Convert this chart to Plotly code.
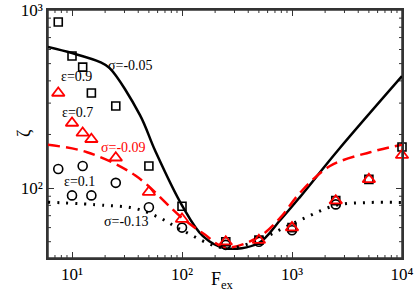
import numpy as np
import plotly.graph_objects as go

# ---- data ----
fex_sq = [7.5, 10, 12.5, 15, 25, 50, 100, 250, 500, 1000, 2500, 5000, 10000]
zeta_sq = [857, 552, 478, 342, 289, 133, 79, 50, 51, 60, 85, 112, 170]

fex_tri = [7.5, 10, 12.5, 15, 25, 50, 100, 250, 500, 1000, 2500, 5000, 10000]
zeta_tri = [342, 232, 204, 188, 148, 95, 67, 50, 51, 60, 85, 112, 153]

fex_circ = [7.5, 10, 12.5, 15, 25, 50, 100, 250, 500, 1000, 2500]
zeta_circ = [128, 91, 133, 91, 107, 78, 60, 48, 50, 58, 81]

fex_s005 = [6.05, 10, 18, 22, 41.5, 56.8, 100, 155, 245, 494, 780, 1180, 2620, 10000]
zeta_s005 = [620, 573, 510, 472, 257, 163, 80, 53.7, 46, 49, 66, 89, 163, 425]

fex_s009 = [6.05, 13.7, 37.4, 100, 160, 245, 494, 780, 1180, 2215, 5130, 10000]
zeta_s009 = [175, 159, 118, 68, 55, 46.5, 53, 68, 94, 133, 159, 175]

fex_s013 = [6.05, 20, 37, 63, 100, 245, 494, 780, 1180, 2500, 5000, 10000]
zeta_s013 = [83.4, 80, 77, 68, 58, 46, 51, 58.5, 66, 80, 83, 83]

xtick_vals = [10, 100, 1000, 10000]
xtick_text = ["10¹", "10²", "10³", "10⁴"]
ytick_vals = [100, 1000]
ytick_text = ["10²", "10³"]

FONT = "Liberation Serif, DejaVu Serif, serif"
RED = "#ff0000"
AX = "#333333"

XR = [np.log10(6.05), 4]
YR = [np.log10(40.5), 3]

fig = go.Figure()

fig.add_trace(go.Scatter(x=fex_s005, y=zeta_s005, mode="lines",
                         line=dict(color="black", width=2.5, shape="spline", smoothing=1.0)))
fig.add_trace(go.Scatter(x=fex_s009, y=zeta_s009, mode="lines",
                         line=dict(color=RED, width=2.5, dash="12px,6px", shape="spline", smoothing=1.0)))
fig.add_trace(go.Scatter(x=fex_s013, y=zeta_s013, mode="lines",
                         line=dict(color="black", width=3, dash="2px,7px", shape="spline", smoothing=1.0)))

fig.add_trace(go.Scatter(x=fex_circ, y=zeta_circ, mode="markers", cliponaxis=False,
                         marker=dict(symbol="circle-open", size=9, color="black",
                                     line=dict(width=1.6, color="black"))))
fig.add_trace(go.Scatter(x=fex_sq, y=zeta_sq, mode="markers", cliponaxis=False,
                         marker=dict(symbol="square-open", size=8, color="black",
                                     line=dict(width=1.6, color="black"))))
fig.add_trace(go.Scatter(x=fex_tri, y=zeta_tri, mode="markers", cliponaxis=False,
                         marker=dict(symbol="triangle-up-open", size=11, color=RED,
                                     line=dict(width=1.8, color=RED))))

ann = [
    ("σ=-0.05", 33.7, 491, "black"),
    ("ε=0.9", 11.1, 421, "black"),
    ("ε=0.7", 11.3, 267, "black"),
    ("σ=-0.09", 29.1, 168, RED),
    ("ε=0.1", 11.6, 109, "black"),
    ("σ=-0.13", 31.6, 65.3, "black"),
]
for t, ax_, ay_, c in ann:
    fig.add_annotation(x=np.log10(ax_), y=np.log10(ay_), text=t, showarrow=False,
                       font=dict(family=FONT, size=14, color=c))

# axis titles
fig.add_annotation(xref="paper", yref="paper", x=-0.102, y=0.504, text="ζ", showarrow=False,
                   textangle=-90, font=dict(family=FONT, size=18, color="black"))
fig.add_annotation(xref="paper", yref="paper", x=0.494, y=-0.145, text="F<sub>ex</sub>",
                   showarrow=False, font=dict(family=FONT, size=18, color="black"))

# frame
fig.add_shape(type="rect", xref="paper", yref="paper", x0=0, x1=1, y0=0, y1=1,
              line=dict(color=AX, width=1.5), layer="below")

# minor ticks (style only), drawn as short pixel-sized lines on all four sides
xminor = [m * 10 ** d for d in range(0, 4) for m in range(2, 10) if 6.05 <= m * 10 ** d <= 10000]
yminor = [m * 10 ** d for d in range(1, 3) for m in range(2, 10) if 40.5 <= m * 10 ** d <= 1000]
for v in xminor:
    for anc, d in ((0, 3), (1, -3)):
        fig.add_shape(type="line", xref="x", yref="paper", x0=v, x1=v,
                      ysizemode="pixel", yanchor=anc, y0=0, y1=d,
                      line=dict(color=AX, width=1), layer="below")
for v in yminor:
    for anc, d in ((0, 3), (1, -3)):
        fig.add_shape(type="line", xref="paper", yref="y", y0=v, y1=v,
                      xsizemode="pixel", xanchor=anc, x0=0, x1=d,
                      line=dict(color=AX, width=1), layer="below")

axis_common = dict(
    showgrid=False, zeroline=False, showline=True, linecolor=AX, linewidth=1.5,
    mirror="ticks", ticks="inside", ticklen=6, tickwidth=1, tickcolor=AX,
    tickfont=dict(family=FONT, size=17, color="black"),
)

fig.update_xaxes(type="log", range=XR, tickvals=xtick_vals, ticktext=xtick_text, **axis_common)
fig.update_yaxes(type="log", range=YR, tickvals=ytick_vals, ticktext=ytick_text, **axis_common)

fig.update_layout(width=415, height=305, margin=dict(l=48, r=13, t=10, b=47, autoexpand=False),
                  plot_bgcolor="white", paper_bgcolor="white", showlegend=False,
                  font=dict(family=FONT))

fig.write_html("out.html", config={"displayModeBar": False},
               post_script="document.body.style.margin='0';")
